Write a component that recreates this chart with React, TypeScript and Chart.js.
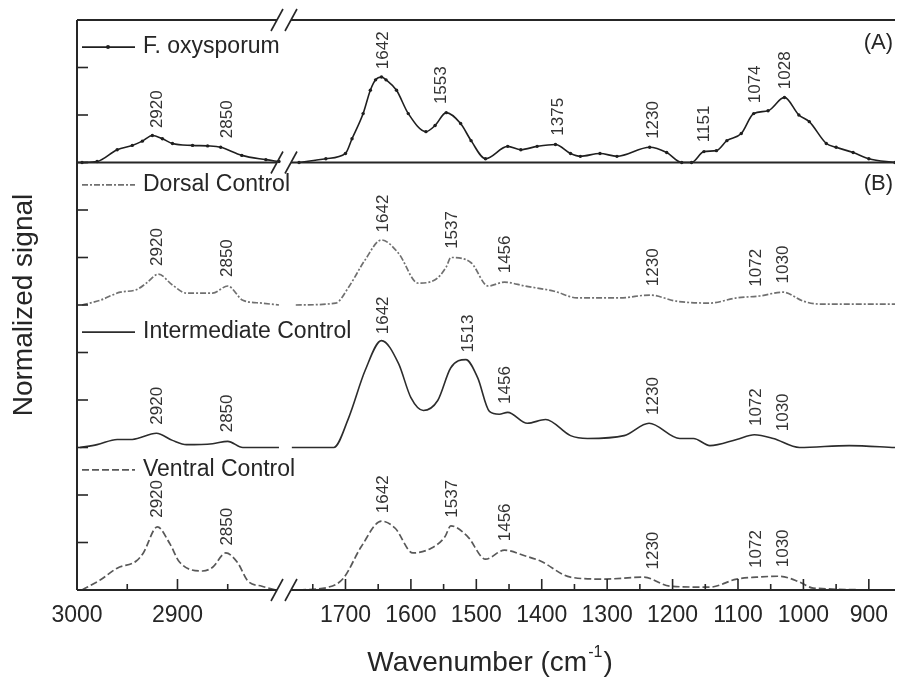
import React, { useEffect, useRef } from 'react';
import { Chart, registerables } from 'chart.js';

Chart.register(...registerables);

// ---------------- data ----------------
const SERIES_NAMES = ['F. oxysporum', 'Dorsal Control', 'Intermediate Control', 'Ventral Control'];
const SERIES_OFFSETS = [9, 6, 3, 0];

// F. oxysporum
const FOX_HIGH_WN = [2995, 2980, 2960, 2945, 2935, 2925, 2915, 2905, 2885, 2870, 2857, 2836, 2812, 2799];
const FOX_HIGH_VAL = [0, 0.02, 0.27, 0.36, 0.45, 0.57, 0.5, 0.4, 0.36, 0.35, 0.32, 0.15, 0.06, 0.02];
const FOX_LOW_WN = [1771, 1730, 1700, 1690, 1673, 1662, 1654, 1645, 1638, 1622, 1604, 1577, 1563, 1546, 1524, 1508, 1486, 1452, 1432, 1407, 1379, 1356, 1341, 1311, 1285, 1235, 1209, 1186, 1171, 1152, 1133, 1117, 1095, 1076, 1054, 1029, 1007, 991, 965, 950, 924, 900, 860];
const FOX_LOW_VAL = [0, 0.08, 0.19, 0.5, 1.03, 1.52, 1.74, 1.8, 1.74, 1.52, 1.03, 0.65, 0.78, 1.05, 0.82, 0.46, 0.08, 0.34, 0.27, 0.34, 0.38, 0.19, 0.13, 0.19, 0.13, 0.32, 0.21, 0, 0, 0.23, 0.25, 0.46, 0.61, 1.03, 1.09, 1.37, 1.0, 0.86, 0.4, 0.32, 0.21, 0.08, 0];
const FOX_PEAKS = [2920, 2850, 1642, 1553, 1375, 1230, 1151, 1074, 1028];

// Dorsal Control
const DOR_HIGH_WN = [2995, 2977, 2957, 2941, 2931, 2919, 2905, 2891, 2865, 2850, 2835, 2816, 2799];
const DOR_HIGH_VAL = [0, 0.1, 0.27, 0.32, 0.46, 0.65, 0.42, 0.25, 0.25, 0.4, 0.1, 0.04, 0];
const DOR_LOW_WN = [1776, 1715, 1695, 1670, 1645, 1619, 1589, 1563, 1546, 1539, 1508, 1482, 1457, 1426, 1381, 1346, 1280, 1235, 1194, 1143, 1102, 1067, 1031, 1000, 976, 860];
const DOR_LOW_VAL = [0, 0.04, 0.38, 0.95, 1.37, 1.09, 0.46, 0.53, 0.8, 1.0, 0.89, 0.4, 0.48, 0.4, 0.29, 0.15, 0.15, 0.21, 0.08, 0.04, 0.15, 0.19, 0.27, 0.08, 0.02, 0.02];
const DOR_PEAKS = [2920, 2850, 1642, 1537, 1456, 1230, 1072, 1030];

// Intermediate Control
const INT_HIGH_WN = [2997, 2980, 2960, 2945, 2921, 2905, 2891, 2865, 2850, 2835, 2799];
const INT_HIGH_VAL = [0, 0.06, 0.17, 0.17, 0.3, 0.15, 0.06, 0.08, 0.13, 0, 0];
const INT_LOW_WN = [1782, 1718, 1695, 1670, 1645, 1619, 1600, 1581, 1559, 1539, 1516, 1498, 1480, 1465, 1452, 1422, 1394, 1356, 1330, 1274, 1236, 1189, 1168, 1143, 1102, 1075, 1046, 1006, 930, 860];
const INT_LOW_VAL = [0, 0, 0.63, 1.62, 2.25, 1.77, 1.05, 0.78, 0.99, 1.68, 1.85, 1.47, 0.76, 0.7, 0.74, 0.51, 0.59, 0.25, 0.19, 0.25, 0.51, 0.19, 0.19, 0.04, 0.17, 0.27, 0.19, 0, 0.04, 0];
const INT_PEAKS = [2920, 2850, 1642, 1513, 1456, 1230, 1072, 1030];

// Ventral Control
const VEN_HIGH_WN = [2995, 2977, 2960, 2941, 2934, 2920, 2908, 2898, 2875, 2865, 2852, 2840, 2830, 2816, 2802];
const VEN_HIGH_VAL = [0, 0.21, 0.46, 0.61, 0.78, 1.33, 0.99, 0.59, 0.4, 0.48, 0.78, 0.57, 0.19, 0.08, 0];
const VEN_LOW_WN = [1771, 1726, 1703, 1676, 1645, 1624, 1597, 1569, 1548, 1539, 1513, 1486, 1457, 1426, 1402, 1356, 1305, 1244, 1204, 1143, 1102, 1072, 1037, 1006, 985, 860];
const VEN_LOW_VAL = [0, 0.06, 0.25, 0.91, 1.45, 1.3, 0.78, 0.88, 1.12, 1.35, 1.12, 0.65, 0.84, 0.72, 0.61, 0.27, 0.23, 0.27, 0.08, 0.06, 0.23, 0.27, 0.29, 0.17, 0.04, 0];
const VEN_PEAKS = [2920, 2850, 1642, 1537, 1456, 1230, 1072, 1030];

// axes
const X_HIGH_RANGE = [2794, 3000];
const X_LOW_RANGE = [860, 1794];
const Y_RANGE = [0, 12];
const X_TICK_STEP = 50;
const X_LABEL_STEP = 100;
const PANEL_LABELS = ['(A)', '(B)'];
const X_TITLE = 'Wavenumber (cm';
const X_TITLE_SUP = '-1';
const X_TITLE_END = ')';
const Y_TITLE = 'Normalized signal';

// ---------------- styles ----------------
const FONT = '"Liberation Sans", Arial, Helvetica, sans-serif';
const INK = '#262626';
const STYLES = [
  { color: '#1f1f1f', dash: [] as number[], points: true, width: 1.6, legendRel: 2.43 },
  { color: '#707070', dash: [6, 2, 2, 2], points: false, width: 1.7, legendRel: 2.53 },
  { color: '#2c2c2c', dash: [] as number[], points: false, width: 1.6, legendRel: 2.43 },
  { color: '#585858', dash: [7, 3], points: false, width: 1.7, legendRel: 2.53 },
];

const SERIES = [
  { highWn: FOX_HIGH_WN, highVal: FOX_HIGH_VAL, lowWn: FOX_LOW_WN, lowVal: FOX_LOW_VAL, peaks: FOX_PEAKS },
  { highWn: DOR_HIGH_WN, highVal: DOR_HIGH_VAL, lowWn: DOR_LOW_WN, lowVal: DOR_LOW_VAL, peaks: DOR_PEAKS },
  { highWn: INT_HIGH_WN, highVal: INT_HIGH_VAL, lowWn: INT_LOW_WN, lowVal: INT_LOW_VAL, peaks: INT_PEAKS },
  { highWn: VEN_HIGH_WN, highVal: VEN_HIGH_VAL, lowWn: VEN_LOW_WN, lowVal: VEN_LOW_VAL, peaks: VEN_PEAKS },
];

function valueAt(wn: number[], val: number[], w: number): number | null {
  for (let i = 0; i < wn.length - 1; i++) {
    const a = wn[i], b = wn[i + 1];
    if ((w <= a && w >= b) || (w >= a && w <= b)) {
      const t = (w - a) / (b - a || 1);
      return val[i] + t * (val[i + 1] - val[i]);
    }
  }
  return null;
}

function buildDatasets() {
  const ds: any[] = [];
  SERIES.forEach((s, i) => {
    const st = STYLES[i];
    const common = {
      borderColor: st.color,
      borderWidth: st.width,
      borderDash: st.dash,
      pointRadius: st.points ? 1.7 : 0,
      pointBackgroundColor: st.color,
      pointBorderWidth: 0,
      cubicInterpolationMode: 'monotone',
      fill: false,
      yAxisID: 'y',
    };
    ds.push({
      ...common,
      label: SERIES_NAMES[i],
      xAxisID: 'xHigh',
      data: s.highWn.map((w, k) => ({ x: w, y: SERIES_OFFSETS[i] + s.highVal[k] })),
    });
    ds.push({
      ...common,
      label: SERIES_NAMES[i] + ' ',
      xAxisID: 'xLow',
      data: s.lowWn.map((w, k) => ({ x: w, y: SERIES_OFFSETS[i] + s.lowVal[k] })),
    });
  });
  return ds;
}

const decorPlugin = {
  id: 'decor',
  afterDraw(chart: any) {
    const { ctx, chartArea: a, scales } = chart;
    const xH = scales.xHigh, xL = scales.xLow, y = scales.y;
    const brk = xL.left;
    const line = (x1: number, y1: number, x2: number, y2: number) => {
      ctx.beginPath();
      ctx.moveTo(x1, y1);
      ctx.lineTo(x2, y2);
      ctx.stroke();
    };
    ctx.save();
    ctx.strokeStyle = INK;
    ctx.setLineDash([]);

    // frame lines with axis break
    const hLines = [a.top, y.getPixelForValue(SERIES_OFFSETS[0]), a.bottom];
    for (const yy of hLines) {
      ctx.lineWidth = 2;
      line(a.left, yy, brk - 7, yy);
      line(brk + 7, yy, a.right, yy);
      ctx.lineWidth = 1.6;
      line(brk - 13, yy + 11, brk - 1, yy - 11);
      line(brk + 1, yy + 11, brk + 13, yy - 11);
    }
    ctx.lineWidth = 2;
    line(a.left, a.top, a.left, a.bottom);

    // x ticks (inward)
    ctx.lineWidth = 1.6;
    for (const sc of [xH, xL]) {
      for (const t of sc.ticks) {
        const px = sc.getPixelForValue(t.value);
        if (Math.abs(px - brk) < 12 || px < a.left + 3 || px > a.right - 1) continue;
        const len = t.value % X_LABEL_STEP === 0 ? 11 : 6;
        line(px, a.bottom, px, a.bottom - len);
      }
    }
    // y ticks (inward)
    for (const t of y.ticks) {
      const py = y.getPixelForValue(t.value);
      if (py <= a.top + 3 || py >= a.bottom - 3) continue;
      line(a.left, py, a.left + 11, py);
    }

    // peak labels
    ctx.fillStyle = '#333';
    ctx.font = `17px ${FONT}`;
    ctx.textAlign = 'left';
    ctx.textBaseline = 'middle';
    SERIES.forEach((s, i) => {
      for (const p of s.peaks) {
        const high = p > 2500;
        const sc = high ? xH : xL;
        const wn = high ? s.highWn : s.lowWn;
        const val = high ? s.highVal : s.lowVal;
        const cands = [p - 8, p, p + 8].map((w) => valueAt(wn, val, w)).filter((v) => v !== null) as number[];
        const v = Math.max(...cands);
        const px = sc.getPixelForValue(p);
        const py = y.getPixelForValue(SERIES_OFFSETS[i] + v) - 9;
        ctx.save();
        ctx.translate(px, py);
        ctx.rotate(-Math.PI / 2);
        ctx.fillText(String(p), 0, 0);
        ctx.restore();
      }
    });

    // legends
    ctx.font = `23px ${FONT}`;
    ctx.fillStyle = INK;
    SERIES_NAMES.forEach((name, i) => {
      const st = STYLES[i];
      const ly = y.getPixelForValue(SERIES_OFFSETS[i] + st.legendRel);
      ctx.strokeStyle = st.color;
      ctx.lineWidth = st.width;
      ctx.setLineDash(st.dash);
      line(a.left + 5, ly, a.left + 58, ly);
      ctx.setLineDash([]);
      if (st.points) {
        ctx.fillStyle = st.color;
        ctx.beginPath();
        ctx.arc(a.left + 31, ly, 2, 0, Math.PI * 2);
        ctx.fill();
      }
      ctx.fillStyle = INK;
      ctx.textAlign = 'left';
      ctx.fillText(name, a.left + 66, ly);
    });

    // panel labels
    ctx.font = `22px ${FONT}`;
    ctx.textAlign = 'right';
    ctx.fillText(PANEL_LABELS[0], a.right - 2, y.getPixelForValue(Y_RANGE[1] - 0.48));
    ctx.fillText(PANEL_LABELS[1], a.right - 2, y.getPixelForValue(SERIES_OFFSETS[0] - 0.45));

    // x title with superscript
    ctx.textAlign = 'left';
    const big = `28px ${FONT}`, small = `16px ${FONT}`;
    ctx.font = big;
    const w1 = ctx.measureText(X_TITLE).width;
    const w3 = ctx.measureText(X_TITLE_END).width;
    ctx.font = small;
    const w2 = ctx.measureText(X_TITLE_SUP).width;
    const total = w1 + w2 + w3 + 2;
    let tx = (a.left + a.right) / 2 + 4 - total / 2;
    const ty = 663;
    ctx.font = big;
    ctx.fillText(X_TITLE, tx, ty);
    tx += w1 + 1;
    ctx.font = small;
    ctx.fillText(X_TITLE_SUP, tx, ty - 10);
    tx += w2 + 1;
    ctx.font = big;
    ctx.fillText(X_TITLE_END, tx, ty);
    ctx.restore();
  },
};

function xAxis(range: number[], weight: number, breakEdge: number) {
  return {
    type: 'linear',
    position: 'bottom',
    stack: 'wn',
    stackWeight: weight,
    min: range[0],
    max: range[1],
    reverse: true,
    grid: { display: false },
    border: { display: false },
    ticks: {
      stepSize: X_TICK_STEP,
      includeBounds: false,
      autoSkip: false,
      maxRotation: 0,
      minRotation: 0,
      padding: 4,
      color: INK,
      font: { family: FONT, size: 23 },
      callback: (v: any) => {
        const n = Number(v);
        if (n % X_LABEL_STEP !== 0 || Math.abs(n - breakEdge) < 15) return '';
        return String(n);
      },
    },
    afterFit: (s: any) => {
      s.height = 96;
      s.paddingLeft = 0;
      s.paddingRight = 0;
    },
  };
}

export default function App() {
  const ref = useRef<HTMLCanvasElement>(null);
  useEffect(() => {
    const chart = new Chart(ref.current as HTMLCanvasElement, {
      type: 'line',
      data: { datasets: buildDatasets() },
      options: {
        animation: false,
        responsive: false,
        devicePixelRatio: 1,
        layout: { padding: { top: 20, right: 0, bottom: 0, left: 0 } },
        plugins: { legend: { display: false }, tooltip: { enabled: false } },
        scales: {
          xHigh: xAxis(X_HIGH_RANGE, 208, X_HIGH_RANGE[0]),
          xLow: xAxis(X_LOW_RANGE, 614, X_LOW_RANGE[1]),
          y: {
            type: 'linear',
            position: 'left',
            min: Y_RANGE[0],
            max: Y_RANGE[1],
            grid: { display: false },
            border: { display: false },
            ticks: { display: false, stepSize: 1 },
            title: {
              display: true,
              text: Y_TITLE,
              color: INK,
              font: { family: FONT, size: 28 },
              padding: { top: 7, bottom: 0 },
            },
            afterFit: (s: any) => {
              s.width = 77;
              s.paddingTop = 0;
              s.paddingBottom = 0;
            },
          },
        } as any,
      },
      plugins: [decorPlugin],
    } as any);
    return () => chart.destroy();
  }, []);
  return (
    <div style={{ position: 'fixed', left: 0, top: 0, width: 899, height: 686, background: '#fff' }}>
      <canvas ref={ref} width={899} height={686} style={{ display: 'block' }} />
    </div>
  );
}
